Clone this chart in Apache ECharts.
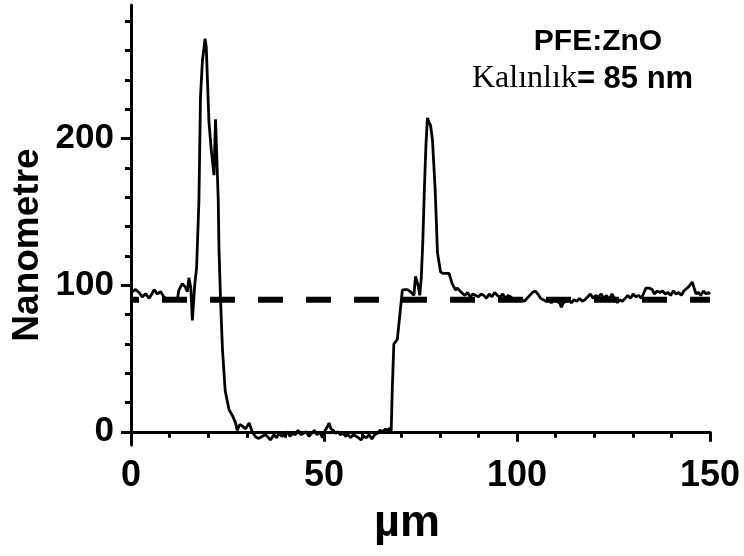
<!DOCTYPE html>
<html>
<head>
<meta charset="utf-8">
<script src="https://cdn.jsdelivr.net/npm/echarts@6/dist/echarts.min.js"></script>
<style>
  html, body { margin: 0; padding: 0; background: #fff; }
  #chart { width: 744px; height: 556px; }
</style>
</head>
<body>
<div id="chart"></div>
<script>
// Height profile across the PFE:ZnO film edge (x in µm, height in nm)
const profileX = [
  0, 0.35, 1.2, 2.1, 2.9, 3.8, 4.7, 5.5, 6.0, 6.8, 7.7, 8.5, 9.4, 10.3, 11.2, 12.0, 12.4, 13.3, 14.0, 14.6,
  15.0, 15.5, 15.9, 16.5, 17.0, 17.6, 18.0, 18.5, 19.2, 19.5, 20.2, 20.8, 21.5, 21.9, 22.6, 22.8, 23.2, 23.7, 24.4, 25.4,
  26.3, 27.1, 27.5, 28.2, 28.8, 29.7, 30.6, 31.4, 32.3, 33.1, 34.0, 34.9, 35.6, 36.2, 37.0, 37.7, 38.4, 39.1, 39.8, 40.5,
  41.2, 41.9, 42.6, 43.3, 44.0, 44.7, 45.4, 46.1, 46.8, 47.5, 48.2, 48.9, 49.6, 50.3, 51.0, 51.3, 51.8, 52.4, 53.0, 53.6,
  54.2, 54.9, 55.6, 56.2, 56.9, 57.6, 58.3, 58.9, 59.6, 60.3, 61.0, 61.7, 62.4, 63.1, 63.8, 64.5, 65.2, 65.9, 66.5, 67.0,
  67.4, 67.7, 68.1, 69.0, 70.3, 70.9, 71.6, 72.4, 73.3, 73.7, 74.4, 74.8, 75.2, 75.6, 76.0, 76.4, 76.8, 77.2, 77.6, 78.1,
  78.8, 79.4, 80.2, 80.8, 81.5, 82.4, 83.2, 84.1, 84.5, 85.0, 85.8, 86.5, 87.2, 87.9, 88.6, 89.3, 90.0, 90.7, 91.4, 92.1,
  92.8, 93.5, 94.2, 94.9, 95.6, 96.3, 97.0, 97.7, 98.4, 99.1, 99.8, 100.5, 101.2, 101.9, 102.6, 103.3, 104.0, 104.7, 105.4, 106.1,
  106.8, 107.5, 108.2, 108.9, 109.6, 110.3, 111.0, 111.5, 112.0, 112.7, 113.4, 114.1, 114.8, 115.5, 116.2, 116.9, 117.6, 118.3, 119.0, 119.7,
  120.4, 121.1, 121.8, 122.5, 123.2, 123.9, 124.6, 125.3, 126.0, 126.6, 127.3, 128.0, 128.7, 129.4, 130.1, 130.8, 131.5, 132.2, 132.9, 133.4,
  134.2, 135.0, 135.6, 136.3, 137.0, 137.7, 138.4, 139.1, 139.8, 140.5, 141.2, 141.9, 142.6, 143.2, 143.7, 144.5, 145.4, 146.0, 146.4, 147.0,
  147.6, 148.3, 149.0, 149.6, 150.0
];
const profileY = [
  95, 95.5, 97, 95, 92, 94, 91, 94.5, 97, 94, 95.5, 92, 90, 90, 91, 90, 96.6, 101, 99, 95.5,
  105, 98, 76, 100, 112, 158, 228, 253, 268, 262, 211, 192, 175, 213, 158, 124, 90, 56, 28, 15,
  11, 6, 1, 5, 4, 2, 6, 0, -3.5, -4.5, -3, -2, -4, -5.5, -2, -4, -1, -3, -2, 0,
  -3, -1, -2, 1, -2, -1, 0, -3, -1, 1, -2, 0, -4, 1, 4, 6, 2, 1, -1, 0,
  -2, -1, -3, -2, -4, -2, -3, -4, -5.5, -3, -4, -2, -5, -2, -1, 1, 0, 2, 1, 2.5,
  0, 30, 60, 63, 96.6, 97, 97, 95.5, 93, 106, 99.5, 93, 105, 130, 165, 195, 214, 211, 209, 199,
  165, 122, 109, 108, 108, 108, 101, 96.6, 98, 97.7, 94.5, 93, 95, 92, 94, 93, 92, 94, 93, 91,
  94, 92, 95, 93, 92, 94, 91, 93, 92, 90, 89, 91, 90, 89, 91, 93, 95, 96, 94, 91,
  90, 89, 90, 88, 90, 89, 88, 85, 88, 89, 90, 88, 90, 89, 91, 89, 90, 92, 94, 91,
  93, 92, 94, 91, 93, 90, 94, 91, 88, 90, 89, 91, 93, 91, 94, 92, 93, 91, 95, 98,
  98, 97, 94, 96, 95, 96, 94, 95, 93, 96, 94, 95, 93, 96, 97, 99, 102, 97, 94, 95,
  93, 96, 94, 95, 94
];

// Reference thickness level drawn as a dashed line
const levelX = [0, 150];
const levelY = [90, 90];

// Axis ticks
const xTickLabels = [0, 50, 100, 150];
const yMajorTicks = [0, 100, 200];
const yMinorTicks = [20, 40, 60, 80, 120, 140, 160, 180, 220, 240, 260, 280];

const titleText = 'PFE:ZnO';
const thicknessWord = 'Kalınlık';
const thicknessValue = '= 85 nm';
const xName = 'µm';
const yName = 'Nanometre';

const profile = profileX.map((x, i) => [x, profileY[i]]);
const level = levelX.map((x, i) => [x, levelY[i]]);

const sans = 'Liberation Sans, Arial, sans-serif';
const serif = 'Liberation Serif, Times New Roman, serif';

const chart = echarts.init(document.getElementById('chart'), null, { renderer: 'canvas' });

const yBase = {
  type: 'value',
  min: -9,
  max: 291,
  position: 'left',
  splitLine: { show: false },
};

chart.setOption({
  animation: false,
  backgroundColor: '#fff',
  grid: { left: 131, right: 34, top: 5, bottom: 111 },
  xAxis: {
    type: 'value',
    min: 0,
    max: 150,
    interval: 50,
    axisLine: { lineStyle: { color: '#000', width: 3 } },
    axisTick: { show: true, inside: false, length: 10, lineStyle: { color: '#000', width: 3 } },
    minorTick: { show: true, splitNumber: 5, length: 6, lineStyle: { color: '#000', width: 3 } },
    splitLine: { show: false },
    axisLabel: {
      color: '#000', fontFamily: sans, fontWeight: 'bold', fontSize: 36, margin: 13,
      customValues: xTickLabels
    }
  },
  yAxis: [
    Object.assign({}, yBase, {
      axisLine: { show: true, lineStyle: { color: '#000', width: 3 } },
      axisTick: { show: true, inside: false, length: 10, customValues: yMajorTicks, lineStyle: { color: '#000', width: 3 } },
      axisLabel: {
        color: '#000', fontFamily: sans, fontWeight: 'bold', fontSize: 35, margin: 17,
        customValues: yMajorTicks
      }
    }),
    Object.assign({}, yBase, {
      axisLine: { show: false },
      axisTick: { show: true, inside: false, length: 6, customValues: yMinorTicks, lineStyle: { color: '#000', width: 3 } },
      axisLabel: { show: false }
    })
  ],
  series: [
    {
      type: 'line',
      data: level,
      yAxisIndex: 0,
      showSymbol: false,
      silent: true,
      lineStyle: { color: '#000', width: 6, type: [25, 23], dashOffset: 17 },
      z: 2
    },
    {
      type: 'line',
      data: profile,
      yAxisIndex: 0,
      showSymbol: false,
      silent: true,
      lineStyle: { color: '#000', width: 2.8 },
      z: 3
    }
  ],
  graphic: [
    {
      type: 'text',
      x: 28, y: 245,
      rotation: Math.PI / 2,
      style: {
        text: yName, fill: '#000', font: 'bold 37px ' + sans,
        align: 'center', verticalAlign: 'middle'
      }
    },
    {
      type: 'text',
      x: 407, y: 524,
      style: {
        text: xName, fill: '#000', font: 'bold 45px ' + sans,
        align: 'center', verticalAlign: 'middle'
      }
    },
    {
      type: 'text',
      x: 598, y: 42,
      style: {
        text: titleText, fill: '#000', font: 'bold 30px ' + sans,
        align: 'center', verticalAlign: 'middle'
      }
    },
    {
      type: 'text',
      x: 472, y: 79,
      style: {
        text: '{a|' + thicknessWord + '}{b|' + thicknessValue + '}',
        align: 'left', verticalAlign: 'middle',
        rich: {
          a: { fill: '#000', fontFamily: serif, fontSize: 32, fontWeight: 'normal' },
          b: { fill: '#000', fontFamily: sans, fontSize: 31, fontWeight: 'bold' }
        }
      }
    }
  ]
});
</script>
</body>
</html>
